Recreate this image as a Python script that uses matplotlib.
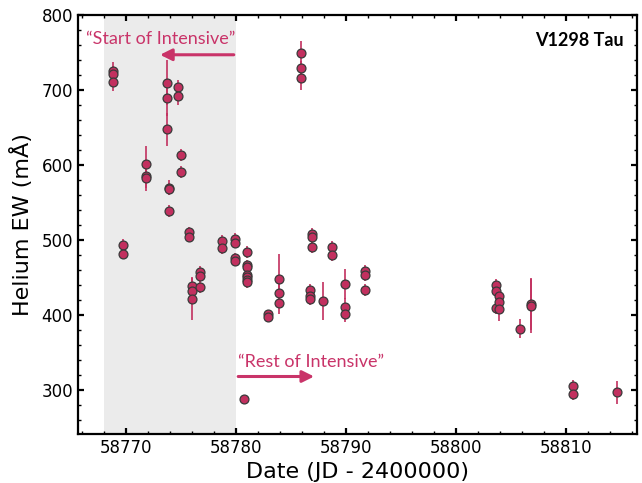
import matplotlib
matplotlib.use("Agg")
import matplotlib.pyplot as plt
from matplotlib.ticker import MultipleLocator

# Helium equivalent-width measurements of V1298 Tau
date = [58768.8, 58768.8, 58768.8,
        58769.75, 58769.75,
        58771.8, 58771.8, 58771.8,
        58773.75, 58773.75, 58773.75,
        58773.9, 58773.9, 58773.9,
        58774.75, 58774.75,
        58775.0, 58775.0,
        58775.75, 58775.75,
        58775.97, 58775.97, 58775.97,
        58776.75, 58776.75, 58776.75,
        58778.75, 58778.75,
        58779.94, 58779.94, 58779.94, 58779.94,
        58780.97, 58780.97, 58780.97, 58780.97, 58780.97, 58780.97, 58780.97,
        58780.75,
        58782.94, 58782.94,
        58783.94, 58783.94, 58783.94,
        58785.9, 58785.9, 58785.9,
        58786.7, 58786.7, 58786.7,
        58786.9, 58786.9, 58786.9,
        58787.9,
        58788.7, 58788.7,
        58789.9, 58789.9, 58789.9,
        58791.7, 58791.7, 58791.7,
        58803.6, 58803.6, 58803.6,
        58803.9, 58803.9, 58803.9,
        58805.85,
        58806.8, 58806.8,
        58810.6, 58810.6,
        58814.6]
ew = [725, 722, 711,
      493, 481,
      601, 585, 583,
      710, 690, 648,
      570, 568, 539,
      704, 692,
      614, 591,
      511, 504,
      439, 432, 422,
      458, 452, 438,
      499, 489,
      502, 496, 476, 472,
      484, 467, 464, 453, 451, 447, 444,
      287.6,
      402, 397,
      448, 429, 416,
      750, 729, 716,
      433, 426, 422,
      508, 504, 491,
      419,
      491, 480,
      441, 411, 401,
      459, 454, 433,
      440, 432, 410,
      425, 418, 408,
      382,
      415, 412,
      306, 295,
      297]
ew_err = [12, 10, 12,
          8, 6,
          25, 15, 18,
          30, 25, 22,
          10, 8, 8,
          10, 12,
          8, 8,
          6, 6,
          12, 10, 28,
          8, 8, 8,
          8, 7,
          7, 7, 7, 6,
          8, 6, 6, 6, 6, 6, 8,
          6,
          5, 6,
          33, 12, 14,
          15, 10, 16,
          8, 8, 8,
          8, 8, 8,
          25,
          8, 8,
          20, 12, 10,
          8, 8, 8,
          8, 8, 8,
          8, 8, 16,
          13,
          35, 36,
          8, 8,
          15]

start_window = [58768.0, 58780.0]
x_ticks = [58770, 58780, 58790, 58800, 58810]

point_color = "#c2305f"
note_color = "#c93469"
note_font = ["Lato", "DejaVu Sans"]

fig = plt.figure(figsize=(6.42, 4.83), dpi=100)
ax = fig.add_axes([0.1215, 0.1014, 0.8707, 0.8675])

ax.axvspan(start_window[0], start_window[1], color="#ebebeb", zorder=0, lw=0)

ax.errorbar(date, ew, yerr=ew_err, fmt="o", color=point_color,
            ecolor=point_color, elinewidth=1.2, capsize=0,
            markersize=6.4, markeredgecolor="#3a3a3a", markeredgewidth=0.9,
            zorder=3)

ax.set_xlim(58765.64, 58816.45)
ax.set_ylim(241.3, 800)
ax.set_xticks(x_ticks)
ax.xaxis.set_minor_locator(MultipleLocator(2))
ax.yaxis.set_major_locator(MultipleLocator(100))
ax.yaxis.set_minor_locator(MultipleLocator(20))
ax.ticklabel_format(axis="x", useOffset=False, style="plain")

ax.tick_params(which="both", direction="in", top=True, right=True,
               labelsize=12)
ax.tick_params(which="major", length=4.5, width=1.6)
ax.tick_params(which="minor", length=2.5, width=1)
for sp in ax.spines.values():
    sp.set_linewidth(1.6)

ax.set_xlabel("Date (JD - 2400000)", fontsize=16, labelpad=4)
ax.set_ylabel("Helium EW (mÅ)", fontsize=16, labelpad=6)

# start-of-campaign marker
ax.annotate("", xy=(58773.1, 747), xytext=(58779.8, 747),
            arrowprops=dict(arrowstyle="-|>,head_length=0.7,head_width=0.35",
                            color=note_color, lw=2.2, shrinkA=0, shrinkB=0))
ax.text(58773.15, 768, "\u201cStart of Intensive\u201d", color=note_color,
        fontsize=13, ha="center", va="center", family=note_font)

# remainder of campaign
ax.annotate("", xy=(58787.1, 318), xytext=(58780.2, 318),
            arrowprops=dict(arrowstyle="-|>,head_length=0.7,head_width=0.35",
                            color=note_color, lw=2.2, shrinkA=0, shrinkB=0))
ax.text(58780.2, 337, "\u201cRest of Intensive\u201d", color=note_color,
        fontsize=13, ha="left", va="center", family=note_font)

ax.text(0.9755, 0.9387, "V1298 Tau", transform=ax.transAxes, ha="right",
        va="center", fontsize=13, fontweight="bold", family=note_font)

fig.savefig("out.png", dpi=100)
